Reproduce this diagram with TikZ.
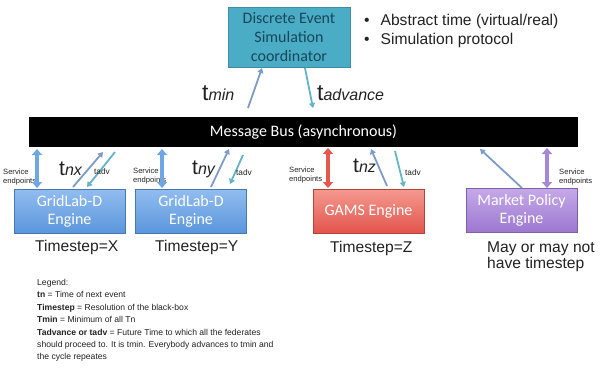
\documentclass[tikz,border=0pt]{standalone}
\usepackage{fontspec}
\setmainfont{Liberation Sans}
\newfontfamily\calib{Carlito}
\usetikzlibrary{arrows.meta}
\definecolor{coordfill}{HTML}{4BACC6}
\definecolor{coordline}{HTML}{3D8EA5}
\definecolor{coordtext}{HTML}{16485A}
\definecolor{upc}{HTML}{7C9CC8}
\definecolor{downc}{HTML}{62B4C8}
\definecolor{bluetop}{HTML}{92BDF0}
\definecolor{bluebot}{HTML}{5A96DC}
\definecolor{redtop}{HTML}{F59A90}
\definecolor{redbot}{HTML}{E2544C}
\definecolor{purtop}{HTML}{C6A9E8}
\definecolor{purbot}{HTML}{9C78D0}
\definecolor{blued}{HTML}{6FA6E4}
\definecolor{redd}{HTML}{E45850}
\definecolor{purd}{HTML}{A686D6}
\definecolor{txt}{HTML}{222222}
\begin{document}
\begin{tikzpicture}[x=1pt,y=-1pt,
  engine/.style={minimum width=111pt,minimum height=44pt,inner sep=0pt,align=center,
    text=white,font=\calib\fontsize{16}{18}\selectfont,draw=#1!80!black,line width=0.4pt},
  bigarrow/.style={line width=4.5pt,{Triangle[width=10pt,length=6pt]}-{Triangle[width=10pt,length=6pt]},shorten <=0pt,shorten >=0pt},
  uparr/.style={draw=upc,line width=1.8pt,-{Triangle[width=6pt,length=5pt]}},
  downarr/.style={draw=downc,line width=1.8pt,-{Triangle[width=6pt,length=5pt]}},
  svc/.style={font=\fontsize{7.6}{8.2}\selectfont,text=txt,align=left,inner sep=0pt,anchor=west},
  tbig/.style={inner sep=0pt,anchor=base west,text=txt},
  small/.style={font=\fontsize{8.3}{9}\selectfont,text=txt,inner sep=0pt},
  lbl/.style={font=\fontsize{15.6}{17}\selectfont,text=txt,inner sep=0pt,anchor=base west}
]
\useasboundingbox (0,0) rectangle (600,367);

% coordinator
\node[fill=coordfill,draw=coordline,line width=0.8pt,minimum width=122pt,minimum height=60pt,inner sep=0pt,
  align=center,text=coordtext,font=\calib\fontsize{16}{19}\selectfont] (coord) at (289,37)
  {Discrete Event\\Simulation\\coordinator};

\node[lbl] (b1) at (364,25) {\textbullet\hspace{11pt}Abstract time (virtual/real)};
\node[lbl] (b2) at (364,44) {\textbullet\hspace{11pt}Simulation protocol};

% bus
\node[fill=black,minimum width=549pt,minimum height=30pt,inner sep=0pt,text=white,
  font=\calib\fontsize{16}{18}\selectfont] (bus) at (303.5,132) {Message Bus (asynchronous)};

% engines
\node[engine=bluebot,top color=bluetop,bottom color=bluebot] (g1) at (69.5,211) {GridLab-D\\Engine};
\node[engine=bluebot,top color=bluetop,bottom color=bluebot] (g2) at (191,211) {GridLab-D\\Engine};
\node[engine=redbot,top color=redtop,bottom color=redbot] (gams) at (368.5,211) {GAMS Engine};
\node[engine=purbot,top color=purtop,bottom color=purbot] (mkt) at (521.5,210) {Market Policy\\Engine};

% timestep labels
\node[lbl] (ts1) at (35,251) {Timestep=X};
\node[lbl] (ts2) at (155,251) {Timestep=Y};
\node[lbl] (ts3) at (330,252) {Timestep=Z};
\node[lbl] (ts4) at (487,252) {May or may not};
\node[lbl] (ts5) at (487,268) {have timestep};

% service endpoints
\node[svc] (s1) at (3,177) {Service\\endpoints};
\node[svc] (s2) at (133,176) {Service\\endpoints};
\node[svc] (s3) at (289,175) {Service\\endpoints};
\node[svc] (s4) at (559,177) {Service\\endpoints};

% double arrows
\coordinate (d1t) at (37,149); \coordinate (d1b) at (37,188);
\coordinate (d2t) at (162,149); \coordinate (d2b) at (162,188);
\coordinate (d3t) at (328,148); \coordinate (d3b) at (328,188);
\coordinate (d4t) at (547,148); \coordinate (d4b) at (547,188);
\draw[bigarrow,blued] (d1t) -- (d1b);
\draw[bigarrow,blued] (d2t) -- (d2b);
\draw[bigarrow,redd] (d3t) -- (d3b);
\draw[bigarrow,purd] (d4t) -- (d4b);

% thin arrows
\coordinate (u1a) at (73,187); \coordinate (u1b) at (103,152);
\coordinate (v1a) at (115,152); \coordinate (v1b) at (87,187);
\coordinate (u2a) at (211,187); \coordinate (u2b) at (229,149);
\coordinate (v2a) at (243,155); \coordinate (v2b) at (230,184);
\coordinate (u3a) at (387,186); \coordinate (u3b) at (371,149);
\coordinate (v3a) at (395,151); \coordinate (v3b) at (404,187);
\coordinate (u4a) at (522,188); \coordinate (u4b) at (480,149);
\coordinate (cua) at (248,108); \coordinate (cub) at (262,68);
\coordinate (cda) at (305,68); \coordinate (cdb) at (313,108);
\draw[uparr] (u1a) -- (u1b);
\draw[downarr] (v1a) -- (v1b);
\draw[uparr] (u2a) -- (u2b);
\draw[downarr] (v2a) -- (v2b);
\draw[uparr] (u3a) -- (u3b);
\draw[downarr] (v3a) -- (v3b);
\draw[uparr] (u4a) -- (u4b);
\draw[uparr] (cua) -- (cub);
\draw[downarr] (cda) -- (cdb);

% time labels
\node[tbig] (tmin) at (202,100) {{\fontsize{23}{23}\selectfont t}{\fontsize{16}{16}\selectfont\itshape min}};
\node[tbig] (tadvance) at (317,100) {{\fontsize{23}{23}\selectfont t}{\fontsize{16}{16}\selectfont\itshape advance}};
\node[tbig] (tnx) at (59,175) {{\fontsize{21}{21}\selectfont t}{\fontsize{16}{16}\selectfont\itshape nx}};
\node[tbig] (tny) at (192,174) {{\fontsize{21}{21}\selectfont t}{\fontsize{16}{16}\selectfont\itshape ny}};
\node[tbig] (tnz) at (353,172) {{\fontsize{21}{21}\selectfont t}{\fontsize{16}{16}\selectfont\itshape nz}};
\node[small] (ta1) at (102,172) {tadv};
\node[small] (ta2) at (244,173) {tadv};
\node[small] (ta3) at (413,173) {tadv};

% legend
\node[anchor=north west,inner sep=0pt,align=left,text=txt,font=\fontsize{8.6}{12.4}\selectfont] (legend) at (37,279)
{Legend:\\
\textbf{tn} = Time of next event\\
\textbf{Timestep} = Resolution of the black-box\\
\textbf{Tmin} = Minimum of all Tn\\
\textbf{Tadvance or tadv} = Future Time to which all the federates\\
should proceed to. It is tmin. Everybody advances to tmin and\\
the cycle repeates};
\end{tikzpicture}
\end{document}
